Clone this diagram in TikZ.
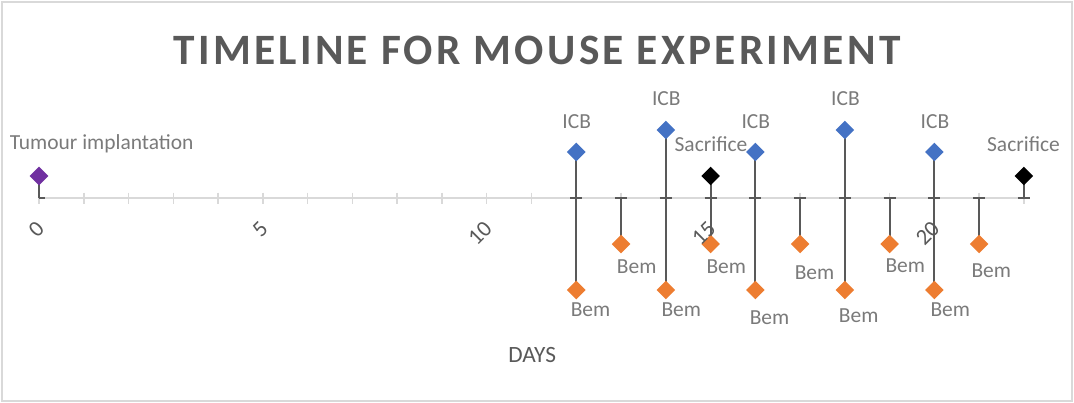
\documentclass[tikz,border=0pt]{standalone}
\usepackage{fontspec}
\setmainfont{Carlito}
\newfontfamily\titlefont[LetterSpace=7.5]{Carlito}
\usetikzlibrary{shapes.geometric}
\pgfdeclarelayer{background}
\pgfsetlayers{background,main}

\definecolor{titlegray}{HTML}{595959}
\definecolor{labelgray}{HTML}{7A7A7A}
\definecolor{axisgray}{HTML}{D9D9D9}
\definecolor{framegray}{HTML}{D9D9D9}
\definecolor{dropgray}{HTML}{595959}
\definecolor{icbblue}{HTML}{4472C4}
\definecolor{bemorange}{HTML}{ED7D31}
\definecolor{tumourpurple}{HTML}{7030A0}

\begin{document}
\begin{tikzpicture}[x=0.75pt,y=-0.75pt,
  frame/.style={draw=framegray,line width=1.3pt},
  axisline/.style={draw=axisgray,line width=1.5pt},
  tickmark/.style={draw=axisgray,line width=1.1pt},
  dropline/.style={draw=dropgray,line width=1.5pt},
  point/.style={diamond,inner sep=0pt,outer sep=0pt,minimum size=13.9pt,draw=none},
  icbpt/.style={point,fill=icbblue},
  bempt/.style={point,fill=bemorange},
  endpt/.style={point,fill=black},
  tumpt/.style={point,fill=tumourpurple},
  datalabel/.style={text=labelgray,font=\fontsize{16.1}{19}\selectfont,inner sep=0pt},
  daynum/.style={text=titlegray,font=\fontsize{17}{20}\selectfont,inner sep=0pt,rotate=45,anchor=east},
  axistitle/.style={text=titlegray,font=\fontsize{17.5}{21}\selectfont,inner sep=0pt},
  charttitle/.style={text=titlegray,font=\titlefont\bfseries\fontsize{32.5}{38}\selectfont,inner sep=0pt},
]
\useasboundingbox (0,0) rectangle (1074,403);

% day positions on the axis
\foreach \d in {0,...,22} {
  \coordinate (a\d) at ({39+44.77*\d},198);
}

% markers
\node[tumpt] (tum0) at ({39},176) {};
\node[endpt] (sac15) at ({39+44.77*15},176) {};
\node[endpt] (sac22) at ({39+44.77*22},176) {};
\foreach \d in {12,16,20} { \node[icbpt] (icb\d) at ({39+44.77*\d},152) {}; }
\foreach \d in {14,18}    { \node[icbpt] (icb\d) at ({39+44.77*\d},130) {}; }
\foreach \d in {12,14,16,18,20} { \node[bempt] (bem\d) at ({39+44.77*\d},290) {}; }
\foreach \d in {13,15,17,19,21} { \node[bempt] (bem\d) at ({39+44.77*\d},244) {}; }

\begin{pgfonlayer}{background}
  \draw[frame] (2,2) rectangle (1072,401);
  \draw[axisline] (a0) -- (a22);
  \foreach \d in {0,...,22} {
    \draw[tickmark] ([shift={(0,-5.5)}]a\d) -- ([shift={(0,5.5)}]a\d);
  }
  % drop lines with caps on the axis
  \draw[dropline] (tum0.center) -- (a0);
  \draw[dropline] (a0) -- ([shift={(6,0)}]a0);
  \foreach \d in {15,22} {
    \draw[dropline] (sac\d.center) -- (a\d);
  }
  \foreach \d in {12,14,16,18,20} {
    \draw[dropline] (icb\d.center) -- (a\d);
  }
  \foreach \d in {12,...,21} {
    \draw[dropline] (bem\d.center) -- (a\d);
  }
  \foreach \d in {12,...,22} {
    \draw[dropline] ([shift={(-6,0)}]a\d) -- ([shift={(6,0)}]a\d);
  }
\end{pgfonlayer}

% title
\node[charttitle] (title) at (537,50.5) {TIMELINE FOR MOUSE EXPERIMENT};

% axis numbers and title
\foreach \d in {0,5,10,15,20} {
  \node[daynum] (num\d) at ([shift={(1.5,27)}]a\d) {\d};
}
\node[axistitle] (days) at (532.2,355) {DAYS};

% data labels
\node[datalabel] (ltum) at (101.7,143.3) {Tumour implantation};
\node[datalabel] (lsac15) at (711,143.7) {Sacrifice};
\node[datalabel] (lsac22) at (1023.5,143.7) {Sacrifice};
\node[datalabel] (licb12) at (576.7,121.7) {ICB};
\node[datalabel] (licb14) at (666.3,98.3) {ICB};
\node[datalabel] (licb16) at (755.8,121.7) {ICB};
\node[datalabel] (licb18) at (845.5,98.5) {ICB};
\node[datalabel] (licb20) at (935,121.5) {ICB};
\node[datalabel] (lbem12) at (590.5,310) {Bem};
\node[datalabel] (lbem13) at (636.7,266.7) {Bem};
\node[datalabel] (lbem14) at (681.3,310) {Bem};
\node[datalabel] (lbem15) at (726.3,266.7) {Bem};
\node[datalabel] (lbem16) at (769.5,317.5) {Bem};
\node[datalabel] (lbem17) at (814.5,272.5) {Bem};
\node[datalabel] (lbem18) at (858.7,315.8) {Bem};
\node[datalabel] (lbem19) at (905.3,265.8) {Bem};
\node[datalabel] (lbem20) at (950.3,310) {Bem};
\node[datalabel] (lbem21) at (991.3,270.8) {Bem};
\end{tikzpicture}
\end{document}
